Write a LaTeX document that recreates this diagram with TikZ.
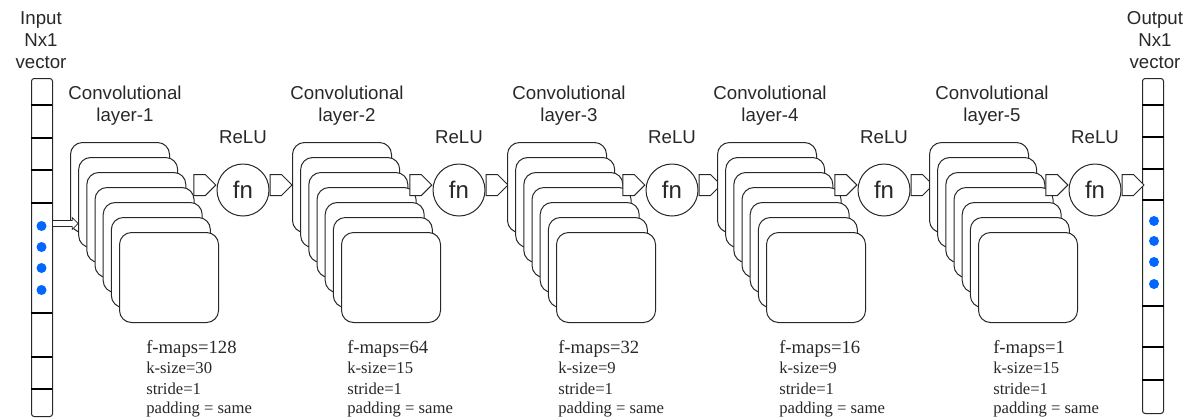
\documentclass[tikz,border=0pt]{standalone}
\usepackage{fontspec}
\setmainfont{Liberation Serif}
\setsansfont{Liberation Sans}
\usetikzlibrary{shapes.symbols}
\definecolor{dotblue}{RGB}{0,102,255}
\definecolor{ink}{RGB}{40,40,40}
\begin{document}
\begin{tikzpicture}[x=0.75pt,y=-0.75pt,
  fmap/.style={draw=ink, fill=white, rounded corners=9pt, minimum width=74.25pt,
    minimum height=67.5pt, anchor=north west, inner sep=0pt, line width=0.75pt},
  sig/.style={signal, signal to=east, draw=ink, fill=white, minimum width=16.5pt,
    minimum height=15.75pt, inner sep=0pt, line width=0.75pt},
  fnc/.style={circle, draw=ink, fill=white, minimum size=39pt, inner sep=0pt,
    line width=0.75pt, font=\sffamily\fontsize{18}{20}\selectfont, text=ink},
  lbl/.style={font=\sffamily\fontsize{14}{16.5}\selectfont, align=center, text=ink, inner sep=0pt},
  pbig/.style={font=\fontsize{14}{16}\selectfont, anchor=base west, inner sep=0pt, text=ink},
  psm/.style={font=\fontsize{12.5}{14}\selectfont, anchor=base west, inner sep=0pt, text=ink},
  vec/.style={draw=ink, fill=white, rounded corners=2pt, minimum width=15.75pt,
    anchor=north west, inner sep=0pt, line width=0.75pt},
  divline/.style={line width=1.3pt, black},
  bdot/.style={circle, fill=dotblue, minimum size=7.5pt, inner sep=0pt}
]
\useasboundingbox (0,0) rectangle (1193,419);

% input vector
\node[vec, minimum height=253.5pt] (vin) at (31,78) {};
\foreach \yy in {105,138,170,203,313,357,389} \draw[divline] (31,\yy) -- (52,\yy);
\foreach \yy [count=\n] in {226,247,268,290} \node[bdot] (din\n) at (41.5,\yy) {};
\node[lbl, anchor=base] (inlbl) at (41,68) {Input\\Nx1\\vector};

% output vector
\node[vec, minimum height=251.25pt] (vout) at (1142,78) {};
\foreach \yy in {105,137,169,200,306,347,380} \draw[divline] (1142,\yy) -- (1164,\yy);
\foreach \yy [count=\n] in {221,241,262,284} \node[bdot] (dout\n) at (1154,\yy) {};
\node[lbl, anchor=base] (outlbl) at (1155,68) {Output\\Nx1\\vector};

% layers
\foreach \i/\L/\cx/\lx/\tx/\fm/\ks in {1/70/243/125/146/128/30, 2/292/459/347/347/64/15,
    3/507/672/569/558/32/9, 4/717/884/770/779/16/9, 5/929/1095/992/993/1/15}{
  \foreach \k in {0,...,6} \node[fmap] (L\i-\k) at ({\L+8.17*\k},{142+15*\k}) {};
  \node[fnc] (fn\i) at (\cx,190) {fn};
  \node[sig, anchor=east] (pa\i) at (fn\i.west |- 0,185) {};
  \node[sig, anchor=west] (pb\i) at (fn\i.east |- pa\i.east) {};
  \node[lbl, anchor=base] (cl\i) at (\lx,121) {Convolutional\\layer-\i};
  \node[lbl, anchor=base] (re\i) at (\cx,143) {ReLU};
  \node[pbig] (fm\i) at (\tx,353) {f-maps=\fm};
  \node[psm] (ks\i) at (\tx,373) {k-size=\ks};
  \node[psm] (st\i) at (\tx,394) {stride=1};
  \node[psm] (pd\i) at (\tx,413) {padding = same};
}

% input arrow (flex arrow) from input vector to first stack
\coordinate (ia) at (vin.east |- 0,223.5);
\coordinate (ib) at (L1-1.west |- ia);
\draw[ink, fill=white, line width=0.6pt]
  ([yshift=2.25pt]ia) -- ([xshift=-4.5pt,yshift=2.25pt]ib) -- ([xshift=-4.5pt,yshift=4.5pt]ib)
  -- (ib) -- ([xshift=-4.5pt,yshift=-4.5pt]ib) -- ([xshift=-4.5pt,yshift=-2.25pt]ib)
  -- ([yshift=-2.25pt]ia);
\end{tikzpicture}
\end{document}
